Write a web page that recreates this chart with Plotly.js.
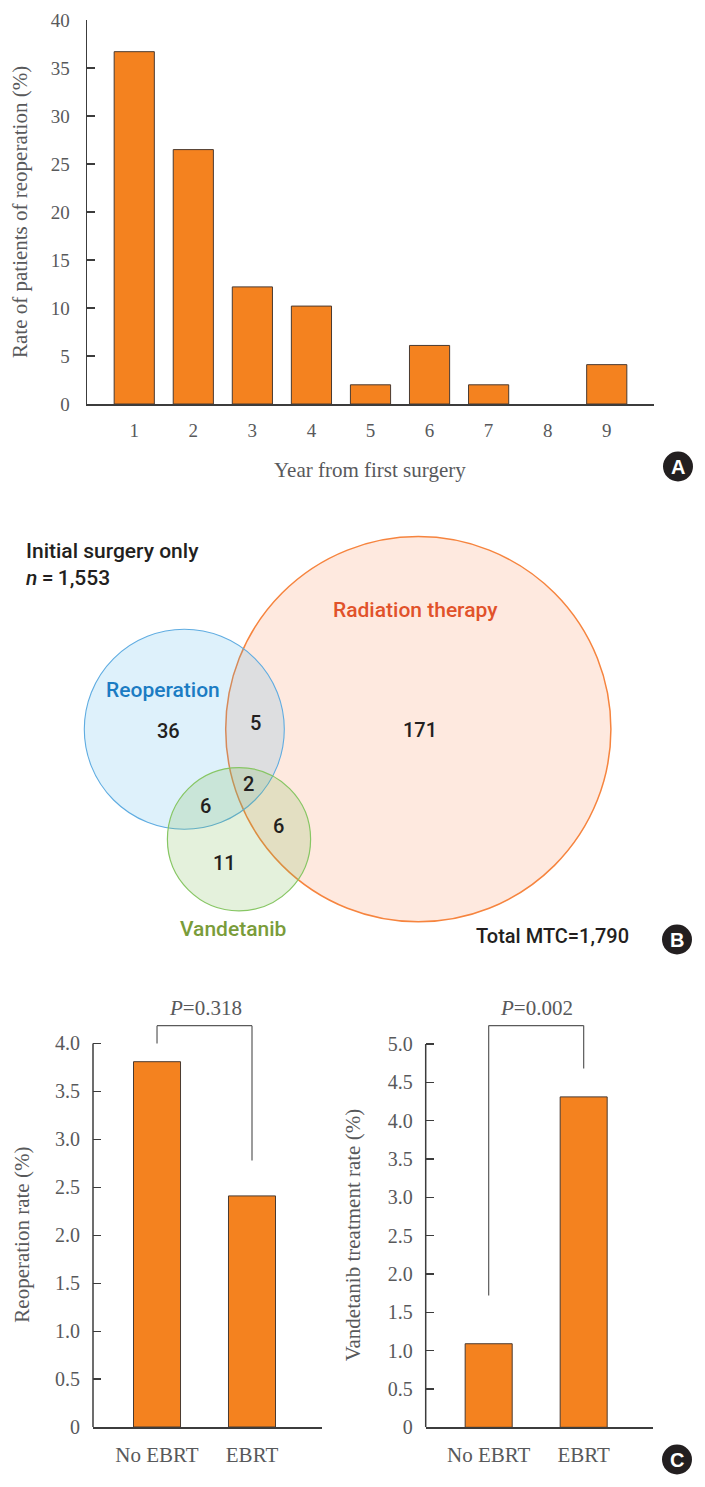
<!DOCTYPE html>
<html><head><meta charset="utf-8">
<script src="https://cdn.plot.ly/plotly-3.0.1.min.js"></script>
<style>html,body{margin:0;padding:0;background:#fff}#chart{width:705px;height:1487px}</style>
</head><body><div id="chart"></div>
<script>
// ---------- DATA ----------
// Panel A
const years = [1, 2, 3, 4, 5, 6, 7, 8, 9];
const reopRateByYear = [36.7, 26.5, 12.2, 10.2, 2.0, 6.1, 2.0, 0, 4.1];
const rateTicks = [0, 5, 10, 15, 20, 25, 30, 35, 40];

// Panel B (Venn)
const vennSets = ['Reoperation', 'Radiation therapy', 'Vandetanib'];
const vennRegions = ['Reop only', 'RT only', 'Vand only', 'Reop+RT', 'Reop+Vand', 'RT+Vand', 'All three'];
const vennCounts = [36, 171, 11, 5, 6, 6, 2];
const initialOnlyN = '1,553';
const totalMTC = '1,790';

// Panel C
const groups = ['No EBRT', 'EBRT'];
const reopRate = [3.81, 2.41];
const vandRate = [1.09, 4.31];
const reopTicks = [0, 0.5, 1.0, 1.5, 2.0, 2.5, 3.0, 3.5, 4.0];
const reopTickText = ['0', '0.5', '1.0', '1.5', '2.0', '2.5', '3.0', '3.5', '4.0'];
const vandTicks = [0, 0.5, 1.0, 1.5, 2.0, 2.5, 3.0, 3.5, 4.0, 4.5, 5.0];
const vandTickText = ['0', '0.5', '1.0', '1.5', '2.0', '2.5', '3.0', '3.5', '4.0', '4.5', '5.0'];
const pValues = ['0.318', '0.002'];

// ---------- LAYOUT GEOMETRY ----------
const W = 705, H = 1487;
const px = x => x / W;
const py = y => 1 - y / H;

const barColor = '#f4821f';
const barEdge = '#4a3a30';
const axisColor = '#3c3c3c';
const labelGray = '#58595b';
const serif = 'Liberation Serif, Times New Roman, serif';
const sans = 'Roboto, Open Sans, sans-serif';
const tickFontA = {family: serif, size: 19, color: labelGray};
const tickFontC = {family: serif, size: 20, color: labelGray};

// Venn circle geometry (pixel frame)
const vennCircles = [
  {cx: 418.3, cy: 729.2, r: 192.6, fill: 'rgba(245,110,40,0.15)', line: 'rgb(246,132,62)', w: 1.5},
  {cx: 184.3, cy: 729.3, r: 100, fill: 'rgba(60,170,230,0.17)', line: 'rgb(95,172,225)', w: 1.1},
  {cx: 239.0, cy: 839.2, r: 71.6, fill: 'rgba(120,185,80,0.20)', line: 'rgb(135,198,100)', w: 1.2}
];
const vennSetLabelPos = [[163, 690], [415.5, 610], [232.5, 929.3]];
const vennSetColors = ['#1b7cc3', '#e1522a', '#7a9c3a'];
const vennCountPos = [[168.3, 731], [420, 730], [224.3, 863.3], [255, 722.7], [205.7, 805.7], [278.3, 826], [248.3, 784.3]];

const badges = [['A', 678, 466.5], ['B', 677, 939.5], ['C', 677, 1459.5]];

// ---------- TRACES ----------
const edgeWidths = reopRateByYear.map(v => (v === 0 ? 0 : 1));
const traces = [
  {type: 'bar', x: years, y: reopRateByYear, xaxis: 'x', yaxis: 'y', width: 0.68,
   marker: {color: barColor, line: {color: barEdge, width: edgeWidths}}, hoverinfo: 'x+y'},
  {type: 'bar', x: groups, y: reopRate, xaxis: 'x2', yaxis: 'y2', width: 0.495,
   marker: {color: barColor, line: {color: barEdge, width: 1}}, hoverinfo: 'x+y'},
  {type: 'bar', x: groups, y: vandRate, xaxis: 'x3', yaxis: 'y3', width: 0.495,
   marker: {color: barColor, line: {color: barEdge, width: 1}}, hoverinfo: 'x+y'},
  {type: 'scatter', x: [], y: [], xaxis: 'x4', yaxis: 'y4', hoverinfo: 'skip', showlegend: false}
];

// ---------- SHAPES ----------
const shapes = [];
vennCircles.forEach(c => shapes.push({type: 'circle', xref: 'x4', yref: 'y4',
  x0: c.cx - c.r, x1: c.cx + c.r, y0: c.cy - c.r, y1: c.cy + c.r,
  fillcolor: c.fill, line: {color: c.line, width: c.w}}));

// y-axis lines for panel C (stop at the top tick)
shapes.push({type: 'line', xref: 'x2 domain', yref: 'y2', x0: 0, x1: 0, y0: 0, y1: reopTicks[reopTicks.length - 1],
  line: {color: axisColor, width: 1.5}});
shapes.push({type: 'line', xref: 'x3 domain', yref: 'y3', x0: 0, x1: 0, y0: 0, y1: vandTicks[vandTicks.length - 1],
  line: {color: axisColor, width: 1.5}});

// significance brackets
function bracket(xr, yr, top, legL, legR) {
  const ln = {color: '#5a5a5a', width: 1.2};
  shapes.push({type: 'line', xref: xr, yref: yr, x0: groups[0], x1: groups[0], y0: legL, y1: top, line: ln});
  shapes.push({type: 'line', xref: xr, yref: yr, x0: groups[0], x1: groups[1], y0: top, y1: top, line: ln});
  shapes.push({type: 'line', xref: xr, yref: yr, x0: groups[1], x1: groups[1], y0: legR, y1: top, line: ln});
}
bracket('x2', 'y2', 4.186, 4.0, 2.78);
bracket('x3', 'y3', 5.24, 1.72, 4.68);

// panel badges
badges.forEach(b => shapes.push({type: 'circle', xref: 'x4', yref: 'y4',
  x0: b[1] - 15, x1: b[1] + 15, y0: b[2] - 15, y1: b[2] + 15,
  fillcolor: '#231f20', line: {width: 0}}));

// ---------- ANNOTATIONS ----------
const ann = [];
const A = (x, y, text, font, extra) => ann.push(Object.assign({xref: 'x4', yref: 'y4', x, y, text,
  showarrow: false, font, xanchor: 'center', yanchor: 'middle'}, extra || {}));

// axis titles
A(20, 212, 'Rate of patients of reoperation (%)', {family: serif, size: 21, color: labelGray}, {textangle: -90});
A(370, 470, 'Year from first surgery', {family: serif, size: 21, color: labelGray});
A(21.7, 1235, 'Reoperation rate (%)', {family: serif, size: 21, color: labelGray}, {textangle: -90});
A(353.3, 1235, 'Vandetanib treatment rate (%)', {family: serif, size: 21, color: labelGray}, {textangle: -90});

// p-values
A(205, 1007.7, '<i>P</i>=' + pValues[0], {family: serif, size: 21, color: labelGray});
A(536, 1007.7, '<i>P</i>=' + pValues[1], {family: serif, size: 21, color: labelGray});

// Venn text
A(24, 551, 'Initial surgery only', {family: sans, size: 21, color: '#231f20', weight: 500}, {xanchor: 'left'});
A(24, 578, '<i>n</i>\u2009=\u2009' + initialOnlyN, {family: sans, size: 21, color: '#231f20', weight: 500}, {xanchor: 'left'});
vennSets.forEach((s, i) => A(vennSetLabelPos[i][0], vennSetLabelPos[i][1], s,
  {family: sans, size: 21, color: vennSetColors[i], weight: 500}));
vennCounts.forEach((v, i) => A(vennCountPos[i][0], vennCountPos[i][1], String(v),
  {family: sans, size: 20, color: '#231f20', weight: 500}));
A(552, 935.7, 'Total MTC=' + totalMTC, {family: sans, size: 20, color: '#231f20', weight: 500});

// badges letters
badges.forEach(b => A(b[1], b[2] + 0.5, b[0], {family: 'Liberation Sans, Arial, sans-serif', size: 20, color: '#ffffff', weight: 'bold'}));

// ---------- AXES ----------
const baseX = {showgrid: false, zeroline: false, fixedrange: true, showline: true, linecolor: axisColor, linewidth: 1.5, ticks: ''};
const baseY = {showgrid: false, zeroline: false, fixedrange: true, ticks: 'inside', ticklen: 8, tickwidth: 1.2, tickcolor: axisColor};

const layout = {
  width: W, height: H,
  margin: {l: 0, r: 0, t: 0, b: 0},
  paper_bgcolor: '#ffffff', plot_bgcolor: 'rgba(0,0,0,0)',
  showlegend: false, bargap: 0.3,
  xaxis: Object.assign({}, baseX, {domain: [px(87), px(654)], range: [0.2, 9.8], tickvals: years,
    tickfont: tickFontA, ticklabelstandoff: 9, anchor: 'y'}),
  yaxis: Object.assign({}, baseY, {domain: [py(404), py(20)], range: [0, 40], tickvals: rateTicks,
    showline: true, linecolor: axisColor, linewidth: 1.5, tickfont: tickFontA, ticklabelstandoff: 12, anchor: 'x'}),
  xaxis2: Object.assign({}, baseX, {domain: [px(93), px(322)], type: 'category', range: [-0.674, 1.737],
    tickfont: {family: serif, size: 21, color: labelGray}, ticklabelstandoff: 8, anchor: 'y2'}),
  yaxis2: Object.assign({}, baseY, {domain: [py(1427), py(1019.5)], range: [0, 4.25], tickvals: reopTicks,
    ticktext: reopTickText, showline: false, tickfont: tickFontC, ticklabelstandoff: 12, anchor: 'x2'}),
  xaxis3: Object.assign({}, baseX, {domain: [px(425.7), px(653.3)], type: 'category', range: [-0.663, 1.733],
    tickfont: {family: serif, size: 21, color: labelGray}, ticklabelstandoff: 8, anchor: 'y3'}),
  yaxis3: Object.assign({}, baseY, {domain: [py(1427.3), py(1021)], range: [0, 5.3], tickvals: vandTicks,
    ticktext: vandTickText, showline: false, tickfont: tickFontC, ticklabelstandoff: 12, anchor: 'x3'}),
  xaxis4: {domain: [0, 1], range: [0, W], visible: false, fixedrange: true, anchor: 'y4'},
  yaxis4: {domain: [0, 1], range: [H, 0], visible: false, fixedrange: true, anchor: 'x4'},
  shapes: shapes,
  annotations: ann
};

Plotly.newPlot('chart', traces, layout, {displayModeBar: false, staticPlot: true});
</script>
</body></html>
